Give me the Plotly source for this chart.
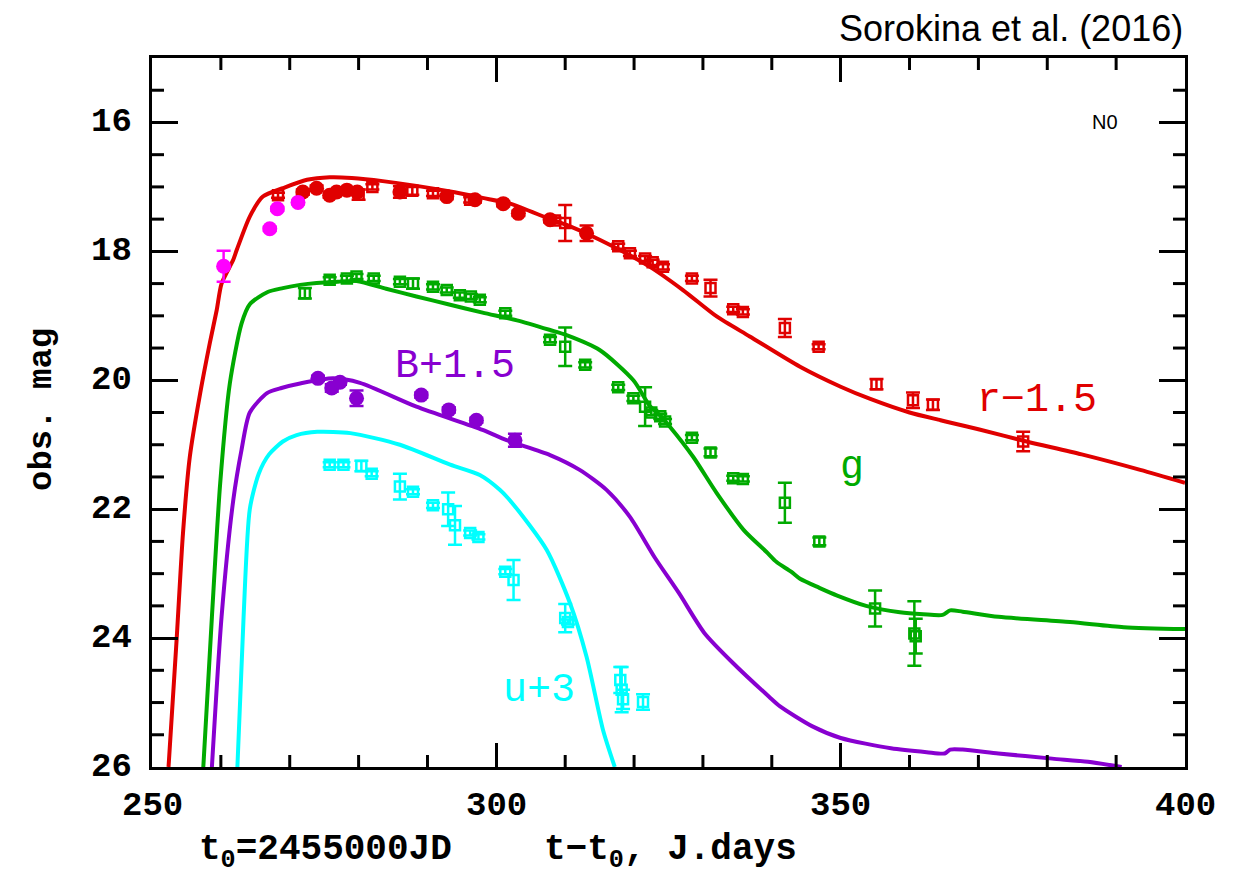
import plotly.graph_objects as go

# ---------------- model curves ----------------
r_model_t = [252.4, 253.6, 254.5, 255.5, 257.0, 258.4, 259.4, 260.1, 261.8, 262.3, 264.2, 266.1, 269.0,
             272.5, 275.8, 279.0, 283.5, 293.3, 298.0, 302.0, 307.8, 310.2, 315.0, 322.3, 327.1, 332.0,
             336.8, 344.1, 350.0, 354.3, 360.0, 364.5, 366.0, 370.0, 377.0, 385.0, 393.5, 400.0]
r_model_m = [26.0, 23.98, 22.37, 21.18, 20.2, 19.42, 18.91, 18.5, 18.13, 17.98, 17.46, 17.15, 17.02,
             16.89, 16.85, 16.86, 16.91, 17.07, 17.17, 17.26, 17.5, 17.59, 17.82, 18.24, 18.6, 19.01,
             19.32, 19.79, 20.1, 20.29, 20.5, 20.62, 20.66, 20.76, 20.95, 21.15, 21.39, 21.59]

g_model_t = [257.45, 258.7, 259.9, 261.3, 263.0, 264.2, 266.8, 269.0, 271.5, 273.9, 277.0, 279.7, 284.0,
             288.4, 293.0, 298.0, 303.0, 307.8, 310.2, 315.0, 319.9, 322.3, 323.8, 325.2, 328.6, 332.0,
             335.9, 339.2, 340.7, 342.8, 344.1, 346.9, 349.5, 353.7, 358.6, 362.0, 364.8, 365.9, 367.7,
             372.9, 383.3, 391.1, 400.0]
g_model_m = [26.0, 23.67, 21.6, 20.05, 19.12, 18.82, 18.63, 18.57, 18.52, 18.49, 18.47, 18.46, 18.58,
             18.7, 18.82, 18.95, 19.07, 19.22, 19.3, 19.53, 20.0, 20.4, 20.55, 20.72, 21.19, 21.75,
             22.32, 22.66, 22.82, 22.97, 23.08, 23.22, 23.34, 23.5, 23.6, 23.63, 23.64, 23.57, 23.59,
             23.67, 23.75, 23.83, 23.86]

b_model_t = [258.7, 260.1, 261.8, 263.0, 264.2, 266.7, 268.8, 271.5, 276.3, 280.2, 288.4, 298.0, 301.5,
             307.8, 312.1, 316.0, 319.4, 323.0, 326.5, 330.2, 334.4, 339.6, 341.2, 345.9, 350.0, 357.3,
             362.5, 365.1, 365.9, 367.7, 372.9, 380.7, 385.9, 390.8]
b_model_m = [26.0, 23.67, 21.86, 21.08, 20.5, 20.2, 20.12, 20.05, 19.97, 20.04, 20.41, 20.77, 20.93,
             21.16, 21.39, 21.7, 22.12, 22.75, 23.3, 23.92, 24.39, 24.91, 25.06, 25.37, 25.55, 25.71,
             25.77, 25.79, 25.73, 25.73, 25.79, 25.87, 25.92, 26.0]

u_model_t = [262.4, 263.3, 264.2, 265.5, 267.0, 269.0, 271.0, 274.0, 278.8, 286.0, 293.3, 297.6, 300.5,
             302.5, 307.3, 310.7, 313.1, 315.5, 317.2]
u_model_m = [26.0, 23.67, 22.0, 21.45, 21.15, 20.95, 20.85, 20.8, 20.82, 21.0, 21.31, 21.47, 21.7,
             21.93, 22.63, 23.46, 24.29, 25.43, 26.0]

# ---------------- observations ----------------
r_circ_t = [271.9, 273.9, 275.8, 276.8, 278.3, 279.8, 286.0, 292.8, 296.9, 301.0, 303.2, 307.8, 313.1]
r_circ_m = [17.08, 17.02, 17.13, 17.08, 17.05, 17.08, 17.08, 17.15, 17.2, 17.26, 17.41, 17.51, 17.72]
r_circ_e = [0.04, 0.04, 0.04, 0.04, 0.04, 0.04, 0.09, 0.04, 0.04, 0.04, 0.04, 0.04, 0.12]

r_sq_t = [268.3, 280.0, 282.0, 287.8, 290.8, 296.2, 308.5, 310.0, 317.7, 319.4, 321.6, 322.7, 324.2,
          328.4, 331.1, 334.4, 335.8, 341.9, 346.8, 355.2, 360.5, 363.4, 376.5]
r_sq_m = [17.13, 17.12, 17.0, 17.06, 17.1, 17.2, 17.52, 17.56, 17.92, 18.03, 18.11, 18.17, 18.24,
          18.42, 18.57, 18.9, 18.94, 19.19, 19.48, 20.06, 20.31, 20.38, 20.95]
r_sq_e = [0.04, 0.08, 0.04, 0.06, 0.04, 0.04, 0.04, 0.28, 0.04, 0.04, 0.04, 0.04, 0.04,
          0.04, 0.13, 0.04, 0.04, 0.14, 0.04, 0.08, 0.12, 0.08, 0.15]

g_sq_t = [272.2, 275.8, 278.3, 279.7, 282.2, 286.0, 287.9, 290.8, 292.8, 294.7, 296.3, 297.6, 301.3,
          307.8, 310.0, 312.9, 317.7, 319.9, 321.6, 322.5, 323.8, 324.5, 328.4, 331.1, 334.4, 335.8,
          341.9, 346.9, 355.0, 360.7, 360.9]
g_sq_m = [18.65, 18.44, 18.42, 18.39, 18.42, 18.47, 18.5, 18.55, 18.6, 18.68, 18.7, 18.75, 18.96,
          19.37, 19.48, 19.76, 20.11, 20.28, 20.41, 20.5, 20.56, 20.64, 20.89, 21.12, 21.52, 21.53,
          21.9, 22.5, 23.54, 23.93, 23.97]
g_sq_e = [0.08, 0.04, 0.04, 0.04, 0.04, 0.04, 0.08, 0.04, 0.04, 0.04, 0.04, 0.04, 0.04,
          0.04, 0.3, 0.04, 0.04, 0.04, 0.3, 0.04, 0.04, 0.04, 0.04, 0.06, 0.04, 0.04,
          0.31, 0.06, 0.28, 0.5, 0.27]

b_circ_t = [274.1, 276.1, 277.3, 279.7, 289.1, 293.1, 297.1, 302.7]
b_circ_m = [19.97, 20.12, 20.03, 20.28, 20.23, 20.46, 20.62, 20.93]
b_circ_e = [0.04, 0.06, 0.04, 0.12, 0.04, 0.04, 0.04, 0.1]

mg_circ_t = [260.4, 267.1, 268.2, 271.2]
mg_circ_m = [18.23, 17.65, 17.34, 17.24]
mg_circ_e = [0.24, 0.03, 0.03, 0.03]

u_sq_t = [275.8, 277.8, 280.4, 281.9, 286.0, 287.9, 290.8, 293.0, 294.0, 296.2, 297.4, 301.3, 302.5,
          310.0, 310.4, 318.0, 318.2, 318.4, 321.3]
u_sq_m = [21.31, 21.31, 21.33, 21.45, 21.65, 21.73, 21.94, 22.0, 22.25, 22.37, 22.43, 22.97, 23.1,
          23.69, 23.75, 24.65, 24.8, 24.95, 24.99]
u_sq_e = [0.04, 0.04, 0.08, 0.04, 0.2, 0.04, 0.04, 0.26, 0.3, 0.04, 0.04, 0.04, 0.31,
          0.22, 0.04, 0.2, 0.35, 0.15, 0.12]

# tick labels and tick steps
x_tick_vals = [250, 300, 350, 400]
y_tick_vals = [16, 18, 20, 22, 24, 26]
X_MINOR_STEP = 10
Y_MINOR_STEP = 0.5

X_RANGE = [250, 400]
Y_RANGE = [26, 15]

RED = "#e00000"
GREEN = "#00aa00"
PURPLE = "#8800d0"
CYAN = "#00ffff"
MAGENTA = "#ff00ff"

fig = go.Figure()


def add_line(t, m, c):
    fig.add_trace(go.Scatter(x=t, y=m, mode="lines",
                             line=dict(color=c, width=4, shape="spline", smoothing=0.7),
                             showlegend=False, hoverinfo="skip"))


def add_pts(t, m, e, c, symbol, size, lw):
    fig.add_trace(go.Scatter(
        x=t, y=m, mode="markers", showlegend=False,
        marker=dict(symbol=symbol, size=size, color=c, line=dict(color=c, width=lw)),
        error_y=dict(type="data", array=e, visible=True, color=c, thickness=2.5, width=7)))


add_line(r_model_t, r_model_m, RED)
add_line(g_model_t, g_model_m, GREEN)
add_line(b_model_t, b_model_m, PURPLE)
add_line(u_model_t, u_model_m, CYAN)

add_pts(r_sq_t, r_sq_m, r_sq_e, RED, "square-open", 10, 2.5)
add_pts(r_circ_t, r_circ_m, r_circ_e, RED, "circle", 15, 0)
add_pts(g_sq_t, g_sq_m, g_sq_e, GREEN, "square-open", 10, 2.5)
add_pts(b_circ_t, b_circ_m, b_circ_e, PURPLE, "circle", 15, 0)
add_pts(mg_circ_t, mg_circ_m, mg_circ_e, MAGENTA, "circle", 15, 0)
add_pts(u_sq_t, u_sq_m, u_sq_e, CYAN, "square-open", 10, 2.5)

LABFONT = "Liberation Mono"

fig.update_layout(
    width=1245, height=878,
    margin=dict(l=152, r=60, t=58, b=111),
    plot_bgcolor="white", paper_bgcolor="white",
    showlegend=False,
    xaxis=dict(range=X_RANGE, dtick=50, ticks="inside", ticklen=24, tickwidth=3, tickcolor="black",
               showline=True, linewidth=3, linecolor="black", mirror="ticks",
               showgrid=False, zeroline=False, showticklabels=False),
    yaxis=dict(range=Y_RANGE, dtick=2, ticks="inside", ticklen=26, tickwidth=3, tickcolor="black",
               showline=True, linewidth=3, linecolor="black", mirror="ticks",
               showgrid=False, zeroline=False, showticklabels=False),
)

# ---- minor ticks: 12-px inside ticks on all four sides (pixel-sized shapes) ----
MINOR_LEN = 12
x_minor = []
v = X_RANGE[0] + X_MINOR_STEP
while v < X_RANGE[1] - 1e-9:
    if abs(v % 50) > 1e-9:
        x_minor.append(v)
    v += X_MINOR_STEP
y_minor = []
v = min(Y_RANGE) + Y_MINOR_STEP
while v < max(Y_RANGE) - 1e-9:
    if abs(v % 2) > 1e-9:
        y_minor.append(v)
    v += Y_MINOR_STEP

tick_line = dict(color="black", width=3)
for xv in x_minor:
    for anchor, sign in ((0, 1), (1, -1)):
        fig.add_shape(type="line", xref="x", yref="paper", x0=xv, x1=xv,
                      ysizemode="pixel", yanchor=anchor, y0=0, y1=sign * MINOR_LEN,
                      line=tick_line, layer="above")
for yv in y_minor:
    for anchor, sign in ((0, 1), (1, -1)):
        fig.add_shape(type="line", xref="paper", yref="y", y0=yv, y1=yv,
                      xsizemode="pixel", xanchor=anchor, x0=0, x1=sign * MINOR_LEN,
                      line=tick_line, layer="above")


def px_x(p):
    return (p - 152) / 1033.0


def px_y(p):
    return (767 - p) / 709.0


TICK_FONT = dict(family=LABFONT, size=34, color="black", weight="bold")

annos = []
for v in x_tick_vals:
    annos.append(dict(text=str(v), x=v, y=px_y(806), xref="x", yref="paper", font=TICK_FONT))
for v in y_tick_vals:
    annos.append(dict(text=str(v), x=px_x(134), y=v, xref="paper", yref="y", xanchor="right",
                      font=TICK_FONT))

annos += [
    dict(text="r\u22121.5", x=378.5, y=20.31, xref="x", yref="y", font=dict(family=LABFONT, size=40, color=RED)),
    dict(text="g", x=351.6, y=21.35, xref="x", yref="y", font=dict(family=LABFONT, size=40, color=GREEN)),
    dict(text="B+1.5", x=294.0, y=19.79, xref="x", yref="y", font=dict(family=LABFONT, size=40, color=PURPLE)),
    dict(text="u+3", x=306.2, y=24.82, xref="x", yref="y", font=dict(family=LABFONT, size=40, color=CYAN)),
    dict(text="N0", x=388.4, y=16.0, xref="x", yref="y", font=dict(family="Liberation Sans", size=20, color="black")),
    dict(text="Sorokina et al. (2016)", x=1.0, y=px_y(28), xref="paper", yref="paper", xanchor="right",
         font=dict(family="Liberation Sans", size=36, color="black")),
    dict(text="t<sub>0</sub>=2455000JD", x=px_x(325), y=px_y(852), xref="paper", yref="paper",
         font=dict(family=LABFONT, size=36, color="black", weight="bold")),
    dict(text="t\u2212t<sub>0</sub>, J.days", x=px_x(670), y=px_y(852), xref="paper", yref="paper",
         font=dict(family=LABFONT, size=36, color="black", weight="bold")),
    dict(text="obs. mag", x=px_x(42), y=px_y(410), xref="paper", yref="paper", textangle=-90,
         font=dict(family=LABFONT, size=34, color="black", weight="bold")),
]
for a in annos:
    a.setdefault("showarrow", False)
    a.setdefault("xanchor", "center")
    a.setdefault("yanchor", "middle")
    fig.add_annotation(**a)

fig.write_html("out.html")
